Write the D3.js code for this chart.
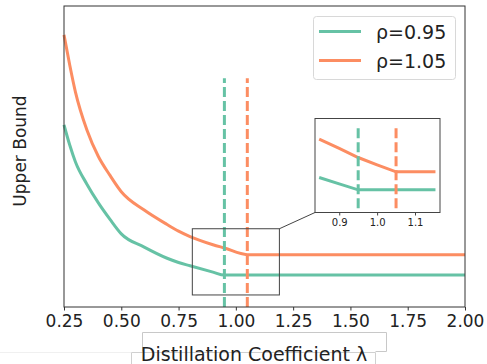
<!DOCTYPE html>
<meta charset="utf-8">
<script src="https://d3js.org/d3.v7.min.js"></script>
<style>
body { margin: 0; background: #fff; }
svg { display: block; }
text { font-family: "DejaVu Sans", sans-serif; fill: #222; }
</style>
<body>
<div id="chart"></div>
<script>
// main curves, values (arbitrary units, no y ticks)
var lambdaVals = [0.25, 0.275, 0.3, 0.35, 0.4, 0.45, 0.5, 0.6, 0.7, 0.75, 0.8, 0.9, 0.95, 1.05, 2.0];
var boundLow  = [6.05, 5.38, 4.82, 4.08, 3.46, 2.92, 2.43, 1.99, 1.62, 1.48, 1.37, 1.16, 1.06, 1.06, 1.06]; // rho=0.95
var boundHigh = [9.04, 8.04, 7.14, 5.88, 5.00, 4.38, 3.83, 3.22, 2.74, 2.52, 2.34, 2.07, 1.96, 1.74, 1.74]; // rho=1.05

var seriesNames = ['ρ=0.95', 'ρ=1.05'];
var seriesColors = ['#66c2a5', '#fc8d62'];
var rhoVals = [0.95, 1.05];
var xTicks = [0.25, 0.5, 0.75, 1.0, 1.25, 1.5, 1.75, 2.0];

// inset (zoomed) curves
var insetLambda = [0.847, 0.9, 0.95, 1.0, 1.05, 1.154];
var insetLow  = [3.72, 3.05, 2.41, 2.41, 2.41, 2.41];
var insetHigh = [7.81, 6.83, 5.85, 5.07, 4.33, 4.33];
var insetTicks = [0.9, 1.0, 1.1];

var W = 487, H = 364;
var margin = {top: 6, right: 22, bottom: 57, left: 64};

var svg = d3.select('#chart').append('svg')
    .attr('width', W)
    .attr('height', H);

var xscale = d3.scaleLinear().domain([0.25, 2.0]).range([margin.left, W - margin.right]);
var yscale = d3.scaleLinear().domain([0, 10]).range([H - margin.bottom, margin.top]);

var line = d3.line()
    .x(function(d) { return xscale(d[0]); })
    .y(function(d) { return yscale(d[1]); })
    .curve(d3.curveMonotoneX);

// curves
[boundLow, boundHigh].forEach(function(vals, i) {
    svg.append('path')
        .datum(lambdaVals.map(function(l, j) { return [l, vals[j]]; }))
        .attr('fill', 'none')
        .attr('stroke', seriesColors[i])
        .attr('stroke-width', 3)
        .attr('d', line);
});

// dashed verticals at lambda = rho
rhoVals.forEach(function(r, i) {
    svg.append('line')
        .attr('x1', xscale(r)).attr('x2', xscale(r))
        .attr('y1', yscale(0)).attr('y2', yscale(7.6))
        .attr('stroke', seriesColors[i])
        .attr('stroke-width', 3)
        .attr('stroke-dasharray', '10,4');
});

// zoom box on main plot
var zoomX = [0.81, 1.19], zoomY = [0.4, 2.6];
svg.append('rect')
    .attr('x', xscale(zoomX[0]))
    .attr('y', yscale(zoomY[1]))
    .attr('width', xscale(zoomX[1]) - xscale(zoomX[0]))
    .attr('height', yscale(zoomY[0]) - yscale(zoomY[1]))
    .attr('fill', 'none')
    .attr('stroke', '#444')
    .attr('stroke-width', 1);

// frame
svg.append('rect')
    .attr('x', margin.left).attr('y', margin.top)
    .attr('width', W - margin.left - margin.right)
    .attr('height', H - margin.top - margin.bottom)
    .attr('fill', 'none')
    .attr('stroke', '#333')
    .attr('stroke-width', 1);

// x axis
var xaxis = d3.axisBottom(xscale)
    .tickValues(xTicks)
    .tickSize(3.5)
    .tickPadding(4)
    .tickFormat(d3.format('.2f'));

var gx = svg.append('g')
    .attr('transform', 'translate(0,' + (H - margin.bottom) + ')')
    .call(xaxis);
gx.select('.domain').remove();
gx.selectAll('line').attr('stroke', '#333');
gx.selectAll('text').style('font-size', '17px').attr('fill', '#222');

// axis labels
svg.append('text')
    .text('Upper Bound')
    .attr('transform', 'rotate(-90)')
    .attr('text-anchor', 'middle')
    .attr('x', -151)
    .attr('y', 26)
    .style('font-size', '17px');

// light artifact boxes around x label
svg.append('path')
    .attr('d', 'M142.5,351.5 V332.5 H386.5 V351.5 H375.5')
    .attr('fill', 'none').attr('stroke', '#c8c8c8');
svg.append('path')
    .attr('d', 'M131.5,366 V352.5 H375.5 V366')
    .attr('fill', 'none').attr('stroke', '#d0d0d0');
svg.append('line')
    .attr('x1', 0).attr('x2', 131).attr('y1', 352.5).attr('y2', 352.5)
    .attr('stroke', '#f0f0f0');

svg.append('text')
    .text('Distillation Coefficient λ')
    .attr('text-anchor', 'middle')
    .attr('x', 254)
    .attr('y', 361)
    .style('font-size', '19px');

// legend
var legend = svg.append('g');
legend.append('rect')
    .attr('x', 313.5).attr('y', 16.5)
    .attr('width', 142).attr('height', 63)
    .attr('rx', 3)
    .attr('fill', '#fff')
    .attr('fill-opacity', 0.8)
    .attr('stroke', '#d8d8d8');
seriesNames.forEach(function(name, i) {
    var ly = 31.5 + i * 29;
    legend.append('line')
        .attr('x1', 319).attr('x2', 361)
        .attr('y1', ly).attr('y2', ly)
        .attr('stroke', seriesColors[i])
        .attr('stroke-width', 3);
    legend.append('text')
        .text(name)
        .attr('x', 376)
        .attr('y', ly + 7)
        .style('font-size', '19px');
});

// inset
var inset = {x0: 315, x1: 440, y0: 118.5, y1: 212.5};
var ixscale = d3.scaleLinear().domain([0.836, 1.166]).range([inset.x0, inset.x1]);
var iyscale = d3.scaleLinear().domain([0, 10]).range([inset.y1, inset.y0]);

// connector from zoom box to inset
svg.append('line')
    .attr('x1', xscale(zoomX[1])).attr('y1', yscale(zoomY[1]))
    .attr('x2', inset.x0).attr('y2', inset.y1)
    .attr('stroke', '#444').attr('stroke-width', 1);

svg.append('rect')
    .attr('x', inset.x0).attr('y', inset.y0)
    .attr('width', inset.x1 - inset.x0)
    .attr('height', inset.y1 - inset.y0)
    .attr('fill', '#fff');

var iline = d3.line()
    .x(function(d) { return ixscale(d[0]); })
    .y(function(d) { return iyscale(d[1]); });

[insetLow, insetHigh].forEach(function(vals, i) {
    svg.append('path')
        .datum(insetLambda.map(function(l, j) { return [l, vals[j]]; }))
        .attr('fill', 'none')
        .attr('stroke', seriesColors[i])
        .attr('stroke-width', 3)
        .attr('d', iline);
});

rhoVals.forEach(function(r, i) {
    svg.append('line')
        .attr('x1', ixscale(r)).attr('x2', ixscale(r))
        .attr('y1', iyscale(0.45)).attr('y2', iyscale(8.98))
        .attr('stroke', seriesColors[i])
        .attr('stroke-width', 3)
        .attr('stroke-dasharray', '10,4');
});

svg.append('rect')
    .attr('x', inset.x0).attr('y', inset.y0)
    .attr('width', inset.x1 - inset.x0)
    .attr('height', inset.y1 - inset.y0)
    .attr('fill', 'none')
    .attr('stroke', '#444')
    .attr('stroke-width', 1);

var iaxis = d3.axisBottom(ixscale)
    .tickValues(insetTicks)
    .tickSize(3)
    .tickPadding(3)
    .tickFormat(d3.format('.1f'));

var gi = svg.append('g')
    .attr('transform', 'translate(0,' + inset.y1 + ')')
    .call(iaxis);
gi.select('.domain').remove();
gi.selectAll('line').attr('stroke', '#444');
gi.selectAll('text').style('font-size', '10px').attr('fill', '#333');
</script>
</body>
</html>
